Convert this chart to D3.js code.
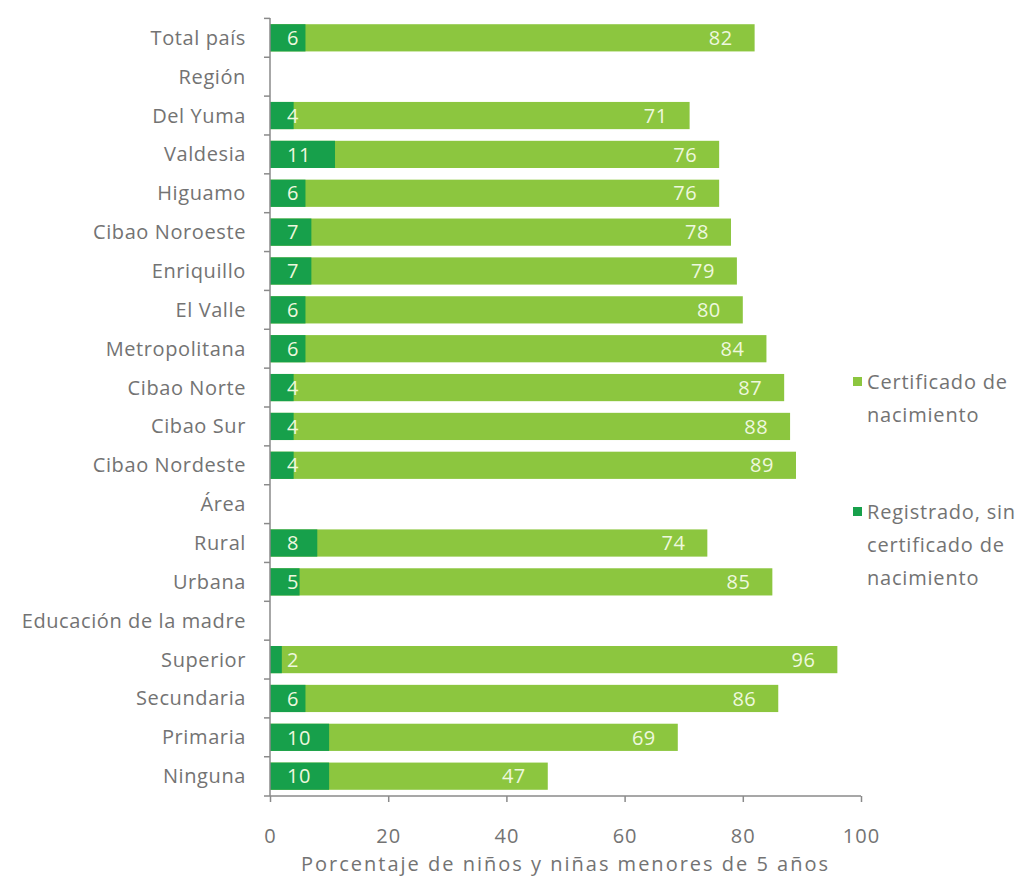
<!DOCTYPE html>
<html>
<head>
<meta charset="utf-8">
<script src="https://cdn.jsdelivr.net/npm/d3@7"></script>
<style>
  body { margin: 0; background: #fff; }
  svg text { font-family: "Open Sans", sans-serif; }
</style>
</head>
<body>
<div id="chart"></div>
<script>
// categorias, de arriba hacia abajo
const categories = ["Total país", "Región", "Del Yuma", "Valdesia", "Higuamo", "Cibao Noroeste",
  "Enriquillo", "El Valle", "Metropolitana", "Cibao Norte", "Cibao Sur", "Cibao Nordeste",
  "Área", "Rural", "Urbana", "Educación de la madre", "Superior", "Secundaria", "Primaria", "Ninguna"];
const certificado = [82, null, 71, 76, 76, 78, 79, 80, 84, 87, 88, 89, null, 74, 85, null, 96, 86, 69, 47];
const registrado = [6, null, 4, 11, 6, 7, 7, 6, 6, 4, 4, 4, null, 8, 5, null, 2, 6, 10, 10];
const xTicks = [0, 20, 40, 60, 80, 100];
const legendItems = [
  { lines: ["Certificado de", "nacimiento"], color: "#8cc63f" },
  { lines: ["Registrado, sin", "certificado de", "nacimiento"], color: "#17a04b" }
];

const W = 1032, H = 880;
const colLight = "#8cc63f", colDark = "#17a04b";
const gray = "#737373", axisGray = "#8a8a8a";

const svg = d3.select("#chart").append("svg")
  .attr("width", W).attr("height", H);

const x = d3.scaleLinear().domain([0, 100]).range([270, 861]);
const y = d3.scaleBand().domain(categories).range([18, 796]).paddingInner(0.3).paddingOuter(0.16);

const rows = categories.map((c, i) => ({ cat: c, cert: certificado[i], reg: registrado[i] }));
const data = rows.filter(d => d.cert != null);

// barras claras (certificado)
svg.selectAll(".cert").data(data).enter().append("rect")
  .attr("class", "cert")
  .attr("x", x(0))
  .attr("y", d => y(d.cat))
  .attr("width", d => x(d.cert) - x(0))
  .attr("height", y.bandwidth())
  .attr("fill", colLight);

// barras oscuras (registrado sin certificado)
svg.selectAll(".reg").data(data).enter().append("rect")
  .attr("class", "reg")
  .attr("x", x(0))
  .attr("y", d => y(d.cat))
  .attr("width", d => x(d.reg) - x(0))
  .attr("height", y.bandwidth())
  .attr("fill", colDark);

// etiquetas de valores
svg.selectAll(".lblCert").data(data).enter().append("text")
  .attr("x", d => x(d.cert) - 22)
  .attr("y", d => y(d.cat) + y.bandwidth() / 2)
  .attr("dy", "0.36em")
  .attr("text-anchor", "end")
  .attr("fill", "#eef8de")
  .style("font-size", "20px")
  .style("letter-spacing", "0.5px")
  .text(d => d.cert);

svg.selectAll(".lblReg").data(data).enter().append("text")
  .attr("x", x(0) + 17)
  .attr("y", d => y(d.cat) + y.bandwidth() / 2)
  .attr("dy", "0.36em")
  .attr("fill", "#eef8de")
  .style("font-size", "20px")
  .style("letter-spacing", "0.5px")
  .text(d => d.reg);

// eje y
const yAxis = svg.append("g")
  .attr("transform", `translate(${x(0)},0)`);
yAxis.append("line")
  .attr("x1", 0).attr("x2", 0)
  .attr("y1", y.range()[0]).attr("y2", y.range()[1])
  .attr("stroke", axisGray).attr("stroke-width", 1.5);
const bounds = categories.map(c => y(c) - y.step() * y.paddingInner() / 2);
yAxis.selectAll(".yt").data(bounds).enter().append("line")
  .attr("x1", -6).attr("x2", 0)
  .attr("y1", d => d).attr("y2", d => d)
  .attr("stroke", axisGray).attr("stroke-width", 1.5);
yAxis.selectAll(".ylab").data(categories).enter().append("text")
  .attr("x", -24)
  .attr("y", d => y(d) + y.bandwidth() / 2)
  .attr("dy", "0.35em")
  .attr("text-anchor", "end")
  .attr("fill", gray)
  .style("font-size", "20px")
  .style("letter-spacing", "0.6px")
  .text(d => d);

// eje x
const xAxis = svg.append("g")
  .attr("transform", `translate(0,${y.range()[1]})`)
  .call(d3.axisBottom(x).tickValues(xTicks).tickSize(6).tickPadding(27));
xAxis.select(".domain").attr("stroke", axisGray).attr("stroke-width", 1.5)
  .attr("d", `M${x(0) - 6},0H${x(100)}`);
xAxis.selectAll(".tick line").attr("stroke", axisGray).attr("stroke-width", 1.5);
xAxis.selectAll(".tick text")
  .attr("fill", gray)
  .style("font-size", "20px")
  .style("font-family", "'Open Sans', sans-serif")
  .style("letter-spacing", "1px");

svg.append("text")
  .attr("x", (x(0) + x(100)) / 2)
  .attr("y", 871)
  .attr("text-anchor", "middle")
  .attr("fill", gray)
  .style("font-size", "20px")
  .style("letter-spacing", "2px")
  .text("Porcentaje de niños y niñas menores de 5 años");

// leyenda
const legendY = [382, 512];
const leg = svg.selectAll(".leg").data(legendItems).enter().append("g")
  .attr("transform", (d, i) => `translate(853,${legendY[i]})`);
leg.append("rect")
  .attr("x", 0).attr("y", -5)
  .attr("width", 9).attr("height", 9)
  .attr("fill", d => d.color);
leg.each(function(d) {
  d3.select(this).selectAll("text").data(d.lines).enter().append("text")
    .attr("x", 14)
    .attr("y", (t, j) => j * 33)
    .attr("dy", "0.35em")
    .attr("fill", gray)
    .style("font-size", "20px")
    .style("letter-spacing", "0.8px")
    .text(t => t);
});
</script>
</body>
</html>
